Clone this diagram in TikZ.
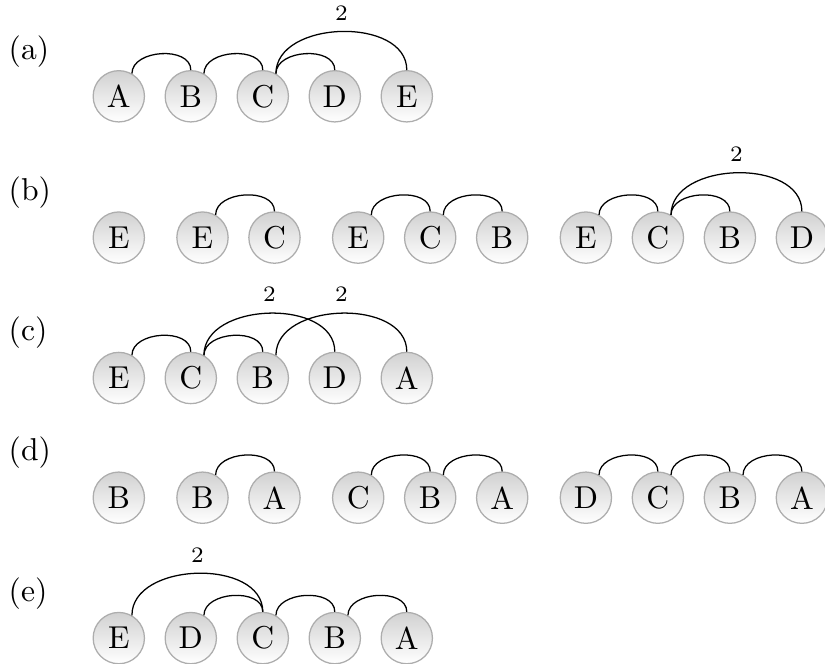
\documentclass[tikz,border=0pt]{standalone}
\usepackage{amsmath,amssymb}
\usepackage{xcolor}
\usepackage{tikz}

\begin{document}
\begin{tikzpicture}[
  vert/.style={circle, draw=black!32, top color=black!18, bottom color=white,
    minimum size=0.57cm, inner sep=0pt},
  link/.style={out=90, in=90, looseness=1.05},
  wt/.style={above, font=\scriptsize},
  tag/.style={anchor=west, inner sep=0pt}]
\def\xo{1.32}; %first column%
\def\dx{0.8}; %node to node%
\def\gap{0.93}; %between two groups%
\def\ya{-1.07};
\def\yb{-2.64};
\def\yc{-4.2};
\def\yd{-5.53};
\def\ye{-7.09};
\def\gb{\xo+\gap};
\def\gc{\xo+2*\gap+\dx};
\def\gd{\xo+3*\gap+3*\dx};

\useasboundingbox (0,0) rectangle (9.167,-7.367);

% (a) %
\node[tag] (ta) at (0.09,\ya+0.5) {(a)};
\node[vert] (a1) at (\xo,\ya) {A};
\node[vert] (a2) at ({\xo+\dx},\ya) {B};
\node[vert] (a3) at ({\xo+2*\dx},\ya) {C};
\node[vert] (a4) at ({\xo+3*\dx},\ya) {D};
\node[vert] (a5) at ({\xo+4*\dx},\ya) {E};
\draw (a1.60) to[link] (a2.north);
\draw (a2.60) to[link] (a3.north);
\draw (a3.60) to[link] (a4.north);
\draw (a3.60) to[link] node[wt] {2} (a5.north);

% (b) four steps %
\node[tag] (tb) at (0.09,\yb+0.5) {(b)};
\node[vert] (b1) at (\xo,\yb) {E};
\node[vert] (b21) at ({\gb},\yb) {E};
\node[vert] (b22) at ({\gb+\dx},\yb) {C};
\node[vert] (b31) at ({\gc},\yb) {E};
\node[vert] (b32) at ({\gc+\dx},\yb) {C};
\node[vert] (b33) at ({\gc+2*\dx},\yb) {B};
\node[vert] (b41) at ({\gd},\yb) {E};
\node[vert] (b42) at ({\gd+\dx},\yb) {C};
\node[vert] (b43) at ({\gd+2*\dx},\yb) {B};
\node[vert] (b44) at ({\gd+3*\dx},\yb) {D};
\draw (b21.60) to[link] (b22.north);
\draw (b31.60) to[link] (b32.north);
\draw (b32.60) to[link] (b33.north);
\draw (b41.60) to[link] (b42.north);
\draw (b42.60) to[link] (b43.north);
\draw (b42.60) to[link] node[wt] {2} (b44.north);

% (c) %
\node[tag] (tc) at (0.09,\yc+0.5) {(c)};
\node[vert] (c1) at (\xo,\yc) {E};
\node[vert] (c2) at ({\xo+\dx},\yc) {C};
\node[vert] (c3) at ({\xo+2*\dx},\yc) {B};
\node[vert] (c4) at ({\xo+3*\dx},\yc) {D};
\node[vert] (c5) at ({\xo+4*\dx},\yc) {A};
\draw (c1.60) to[link] (c2.north);
\draw (c2.60) to[link] (c3.north);
\draw (c2.60) to[link] node[wt] {2} (c4.north);
\draw (c3.60) to[link] node[wt] {2} (c5.north);

% (d) four steps %
\node[tag] (td) at (0.09,\yd+0.5) {(d)};
\node[vert] (d1) at (\xo,\yd) {B};
\node[vert] (d21) at ({\gb},\yd) {B};
\node[vert] (d22) at ({\gb+\dx},\yd) {A};
\node[vert] (d31) at ({\gc},\yd) {C};
\node[vert] (d32) at ({\gc+\dx},\yd) {B};
\node[vert] (d33) at ({\gc+2*\dx},\yd) {A};
\node[vert] (d41) at ({\gd},\yd) {D};
\node[vert] (d42) at ({\gd+\dx},\yd) {C};
\node[vert] (d43) at ({\gd+2*\dx},\yd) {B};
\node[vert] (d44) at ({\gd+3*\dx},\yd) {A};
\draw (d21.60) to[link] (d22.north);
\draw (d31.60) to[link] (d32.north);
\draw (d32.60) to[link] (d33.north);
\draw (d41.60) to[link] (d42.north);
\draw (d42.60) to[link] (d43.north);
\draw (d43.60) to[link] (d44.north);

% (e) %
\node[tag] (te) at (0.09,\ye+0.5) {(e)};
\node[vert] (e1) at (\xo,\ye) {E};
\node[vert] (e2) at ({\xo+\dx},\ye) {D};
\node[vert] (e3) at ({\xo+2*\dx},\ye) {C};
\node[vert] (e4) at ({\xo+3*\dx},\ye) {B};
\node[vert] (e5) at ({\xo+4*\dx},\ye) {A};
\draw (e1.60) to[link] node[wt] {2} (e3.north);
\draw (e2.60) to[link] (e3.north);
\draw (e3.60) to[link] (e4.north);
\draw (e4.60) to[link] (e5.north);

\end{tikzpicture}
\end{document}
